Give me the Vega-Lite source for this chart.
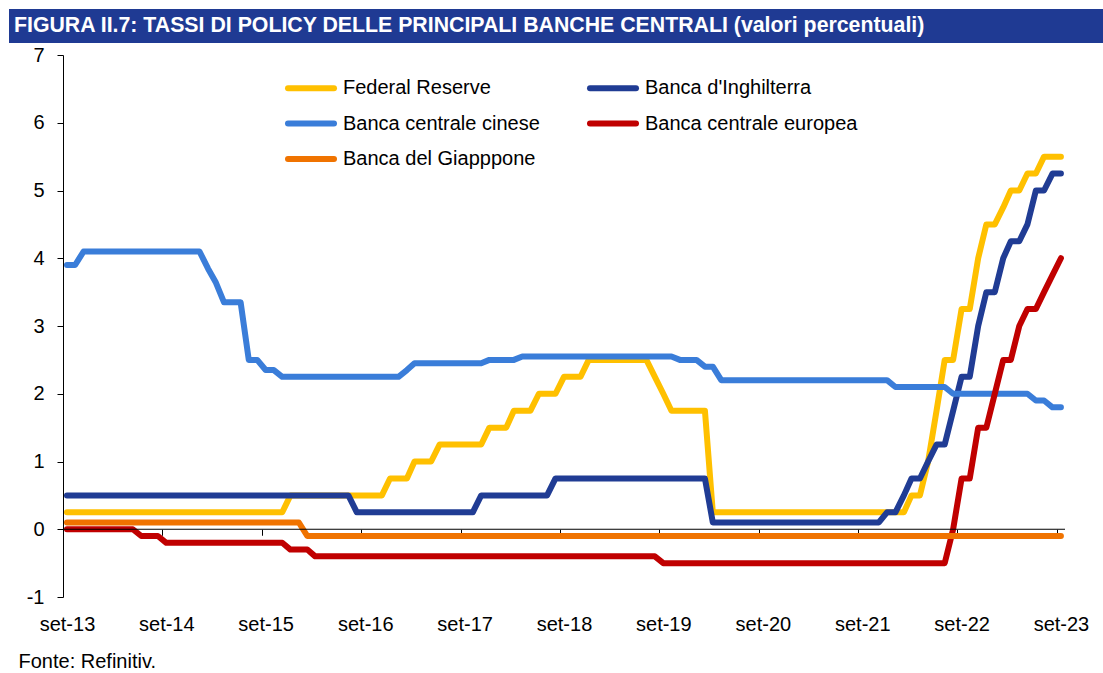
{
  "$schema": "https://vega.github.io/schema/vega-lite/v6.json",
  "padding": {"left": 9, "top": 9, "right": 0, "bottom": 0},
  "background": "white",
  "columns": 1,
  "align": "none",
  "spacing": 2,
  "config": {"view": {"stroke": null}, "font": "Liberation Sans"},
  "concat": [
    {
      "width": 1094,
      "height": 34,
      "view": {"fill": "#1F3A93", "stroke": null},
      "data": {"values": [{"titolo": "FIGURA II.7: TASSI DI POLICY DELLE PRINCIPALI BANCHE CENTRALI (valori percentuali)"}]},
      "layer": [
        {"mark": {"type": "rect", "color": "#1F3A93"}},
        {
          "mark": {"type": "text", "align": "left", "baseline": "middle", "color": "white", "font": "Liberation Sans", "fontWeight": "bold", "fontSize": 21.3},
          "encoding": {
            "x": {"value": 5},
            "y": {"value": 17},
            "text": {"field": "titolo"}
          }
        }
      ]
    },
    {
      "width": 1056,
      "height": 542,
      "layer": [
        {
          "data": {"values": [
            {"d":"2013-09-01","fed":0.25,"boe":0.5,"pboc":3.9,"ecb":0,"boj":0.1},
            {"d":"2013-10-01","fed":0.25,"boe":0.5,"pboc":3.9,"ecb":0,"boj":0.1},
            {"d":"2013-11-01","fed":0.25,"boe":0.5,"pboc":4.1,"ecb":0,"boj":0.1},
            {"d":"2013-12-01","fed":0.25,"boe":0.5,"pboc":4.1,"ecb":0,"boj":0.1},
            {"d":"2014-01-01","fed":0.25,"boe":0.5,"pboc":4.1,"ecb":0,"boj":0.1},
            {"d":"2014-02-01","fed":0.25,"boe":0.5,"pboc":4.1,"ecb":0,"boj":0.1},
            {"d":"2014-03-01","fed":0.25,"boe":0.5,"pboc":4.1,"ecb":0,"boj":0.1},
            {"d":"2014-04-01","fed":0.25,"boe":0.5,"pboc":4.1,"ecb":0,"boj":0.1},
            {"d":"2014-05-01","fed":0.25,"boe":0.5,"pboc":4.1,"ecb":0,"boj":0.1},
            {"d":"2014-06-01","fed":0.25,"boe":0.5,"pboc":4.1,"ecb":-0.1,"boj":0.1},
            {"d":"2014-07-01","fed":0.25,"boe":0.5,"pboc":4.1,"ecb":-0.1,"boj":0.1},
            {"d":"2014-08-01","fed":0.25,"boe":0.5,"pboc":4.1,"ecb":-0.1,"boj":0.1},
            {"d":"2014-09-01","fed":0.25,"boe":0.5,"pboc":4.1,"ecb":-0.2,"boj":0.1},
            {"d":"2014-10-01","fed":0.25,"boe":0.5,"pboc":4.1,"ecb":-0.2,"boj":0.1},
            {"d":"2014-11-01","fed":0.25,"boe":0.5,"pboc":4.1,"ecb":-0.2,"boj":0.1},
            {"d":"2014-12-01","fed":0.25,"boe":0.5,"pboc":4.1,"ecb":-0.2,"boj":0.1},
            {"d":"2015-01-01","fed":0.25,"boe":0.5,"pboc":4.1,"ecb":-0.2,"boj":0.1},
            {"d":"2015-02-01","fed":0.25,"boe":0.5,"pboc":3.85,"ecb":-0.2,"boj":0.1},
            {"d":"2015-03-01","fed":0.25,"boe":0.5,"pboc":3.65,"ecb":-0.2,"boj":0.1},
            {"d":"2015-04-01","fed":0.25,"boe":0.5,"pboc":3.35,"ecb":-0.2,"boj":0.1},
            {"d":"2015-05-01","fed":0.25,"boe":0.5,"pboc":3.35,"ecb":-0.2,"boj":0.1},
            {"d":"2015-06-01","fed":0.25,"boe":0.5,"pboc":3.35,"ecb":-0.2,"boj":0.1},
            {"d":"2015-07-01","fed":0.25,"boe":0.5,"pboc":2.5,"ecb":-0.2,"boj":0.1},
            {"d":"2015-08-01","fed":0.25,"boe":0.5,"pboc":2.5,"ecb":-0.2,"boj":0.1},
            {"d":"2015-09-01","fed":0.25,"boe":0.5,"pboc":2.35,"ecb":-0.2,"boj":0.1},
            {"d":"2015-10-01","fed":0.25,"boe":0.5,"pboc":2.35,"ecb":-0.2,"boj":0.1},
            {"d":"2015-11-01","fed":0.25,"boe":0.5,"pboc":2.25,"ecb":-0.2,"boj":0.1},
            {"d":"2015-12-01","fed":0.5,"boe":0.5,"pboc":2.25,"ecb":-0.3,"boj":0.1},
            {"d":"2016-01-01","fed":0.5,"boe":0.5,"pboc":2.25,"ecb":-0.3,"boj":0.1},
            {"d":"2016-02-01","fed":0.5,"boe":0.5,"pboc":2.25,"ecb":-0.3,"boj":-0.1},
            {"d":"2016-03-01","fed":0.5,"boe":0.5,"pboc":2.25,"ecb":-0.4,"boj":-0.1},
            {"d":"2016-04-01","fed":0.5,"boe":0.5,"pboc":2.25,"ecb":-0.4,"boj":-0.1},
            {"d":"2016-05-01","fed":0.5,"boe":0.5,"pboc":2.25,"ecb":-0.4,"boj":-0.1},
            {"d":"2016-06-01","fed":0.5,"boe":0.5,"pboc":2.25,"ecb":-0.4,"boj":-0.1},
            {"d":"2016-07-01","fed":0.5,"boe":0.5,"pboc":2.25,"ecb":-0.4,"boj":-0.1},
            {"d":"2016-08-01","fed":0.5,"boe":0.25,"pboc":2.25,"ecb":-0.4,"boj":-0.1},
            {"d":"2016-09-01","fed":0.5,"boe":0.25,"pboc":2.25,"ecb":-0.4,"boj":-0.1},
            {"d":"2016-10-01","fed":0.5,"boe":0.25,"pboc":2.25,"ecb":-0.4,"boj":-0.1},
            {"d":"2016-11-01","fed":0.5,"boe":0.25,"pboc":2.25,"ecb":-0.4,"boj":-0.1},
            {"d":"2016-12-01","fed":0.75,"boe":0.25,"pboc":2.25,"ecb":-0.4,"boj":-0.1},
            {"d":"2017-01-01","fed":0.75,"boe":0.25,"pboc":2.25,"ecb":-0.4,"boj":-0.1},
            {"d":"2017-02-01","fed":0.75,"boe":0.25,"pboc":2.35,"ecb":-0.4,"boj":-0.1},
            {"d":"2017-03-01","fed":1,"boe":0.25,"pboc":2.45,"ecb":-0.4,"boj":-0.1},
            {"d":"2017-04-01","fed":1,"boe":0.25,"pboc":2.45,"ecb":-0.4,"boj":-0.1},
            {"d":"2017-05-01","fed":1,"boe":0.25,"pboc":2.45,"ecb":-0.4,"boj":-0.1},
            {"d":"2017-06-01","fed":1.25,"boe":0.25,"pboc":2.45,"ecb":-0.4,"boj":-0.1},
            {"d":"2017-07-01","fed":1.25,"boe":0.25,"pboc":2.45,"ecb":-0.4,"boj":-0.1},
            {"d":"2017-08-01","fed":1.25,"boe":0.25,"pboc":2.45,"ecb":-0.4,"boj":-0.1},
            {"d":"2017-09-01","fed":1.25,"boe":0.25,"pboc":2.45,"ecb":-0.4,"boj":-0.1},
            {"d":"2017-10-01","fed":1.25,"boe":0.25,"pboc":2.45,"ecb":-0.4,"boj":-0.1},
            {"d":"2017-11-01","fed":1.25,"boe":0.5,"pboc":2.45,"ecb":-0.4,"boj":-0.1},
            {"d":"2017-12-01","fed":1.5,"boe":0.5,"pboc":2.5,"ecb":-0.4,"boj":-0.1},
            {"d":"2018-01-01","fed":1.5,"boe":0.5,"pboc":2.5,"ecb":-0.4,"boj":-0.1},
            {"d":"2018-02-01","fed":1.5,"boe":0.5,"pboc":2.5,"ecb":-0.4,"boj":-0.1},
            {"d":"2018-03-01","fed":1.75,"boe":0.5,"pboc":2.5,"ecb":-0.4,"boj":-0.1},
            {"d":"2018-04-01","fed":1.75,"boe":0.5,"pboc":2.55,"ecb":-0.4,"boj":-0.1},
            {"d":"2018-05-01","fed":1.75,"boe":0.5,"pboc":2.55,"ecb":-0.4,"boj":-0.1},
            {"d":"2018-06-01","fed":2,"boe":0.5,"pboc":2.55,"ecb":-0.4,"boj":-0.1},
            {"d":"2018-07-01","fed":2,"boe":0.5,"pboc":2.55,"ecb":-0.4,"boj":-0.1},
            {"d":"2018-08-01","fed":2,"boe":0.75,"pboc":2.55,"ecb":-0.4,"boj":-0.1},
            {"d":"2018-09-01","fed":2.25,"boe":0.75,"pboc":2.55,"ecb":-0.4,"boj":-0.1},
            {"d":"2018-10-01","fed":2.25,"boe":0.75,"pboc":2.55,"ecb":-0.4,"boj":-0.1},
            {"d":"2018-11-01","fed":2.25,"boe":0.75,"pboc":2.55,"ecb":-0.4,"boj":-0.1},
            {"d":"2018-12-01","fed":2.5,"boe":0.75,"pboc":2.55,"ecb":-0.4,"boj":-0.1},
            {"d":"2019-01-01","fed":2.5,"boe":0.75,"pboc":2.55,"ecb":-0.4,"boj":-0.1},
            {"d":"2019-02-01","fed":2.5,"boe":0.75,"pboc":2.55,"ecb":-0.4,"boj":-0.1},
            {"d":"2019-03-01","fed":2.5,"boe":0.75,"pboc":2.55,"ecb":-0.4,"boj":-0.1},
            {"d":"2019-04-01","fed":2.5,"boe":0.75,"pboc":2.55,"ecb":-0.4,"boj":-0.1},
            {"d":"2019-05-01","fed":2.5,"boe":0.75,"pboc":2.55,"ecb":-0.4,"boj":-0.1},
            {"d":"2019-06-01","fed":2.5,"boe":0.75,"pboc":2.55,"ecb":-0.4,"boj":-0.1},
            {"d":"2019-07-01","fed":2.5,"boe":0.75,"pboc":2.55,"ecb":-0.4,"boj":-0.1},
            {"d":"2019-08-01","fed":2.25,"boe":0.75,"pboc":2.55,"ecb":-0.4,"boj":-0.1},
            {"d":"2019-09-01","fed":2,"boe":0.75,"pboc":2.55,"ecb":-0.5,"boj":-0.1},
            {"d":"2019-10-01","fed":1.75,"boe":0.75,"pboc":2.55,"ecb":-0.5,"boj":-0.1},
            {"d":"2019-11-01","fed":1.75,"boe":0.75,"pboc":2.5,"ecb":-0.5,"boj":-0.1},
            {"d":"2019-12-01","fed":1.75,"boe":0.75,"pboc":2.5,"ecb":-0.5,"boj":-0.1},
            {"d":"2020-01-01","fed":1.75,"boe":0.75,"pboc":2.5,"ecb":-0.5,"boj":-0.1},
            {"d":"2020-02-01","fed":1.75,"boe":0.75,"pboc":2.4,"ecb":-0.5,"boj":-0.1},
            {"d":"2020-03-01","fed":0.25,"boe":0.1,"pboc":2.4,"ecb":-0.5,"boj":-0.1},
            {"d":"2020-04-01","fed":0.25,"boe":0.1,"pboc":2.2,"ecb":-0.5,"boj":-0.1},
            {"d":"2020-05-01","fed":0.25,"boe":0.1,"pboc":2.2,"ecb":-0.5,"boj":-0.1},
            {"d":"2020-06-01","fed":0.25,"boe":0.1,"pboc":2.2,"ecb":-0.5,"boj":-0.1},
            {"d":"2020-07-01","fed":0.25,"boe":0.1,"pboc":2.2,"ecb":-0.5,"boj":-0.1},
            {"d":"2020-08-01","fed":0.25,"boe":0.1,"pboc":2.2,"ecb":-0.5,"boj":-0.1},
            {"d":"2020-09-01","fed":0.25,"boe":0.1,"pboc":2.2,"ecb":-0.5,"boj":-0.1},
            {"d":"2020-10-01","fed":0.25,"boe":0.1,"pboc":2.2,"ecb":-0.5,"boj":-0.1},
            {"d":"2020-11-01","fed":0.25,"boe":0.1,"pboc":2.2,"ecb":-0.5,"boj":-0.1},
            {"d":"2020-12-01","fed":0.25,"boe":0.1,"pboc":2.2,"ecb":-0.5,"boj":-0.1},
            {"d":"2021-01-01","fed":0.25,"boe":0.1,"pboc":2.2,"ecb":-0.5,"boj":-0.1},
            {"d":"2021-02-01","fed":0.25,"boe":0.1,"pboc":2.2,"ecb":-0.5,"boj":-0.1},
            {"d":"2021-03-01","fed":0.25,"boe":0.1,"pboc":2.2,"ecb":-0.5,"boj":-0.1},
            {"d":"2021-04-01","fed":0.25,"boe":0.1,"pboc":2.2,"ecb":-0.5,"boj":-0.1},
            {"d":"2021-05-01","fed":0.25,"boe":0.1,"pboc":2.2,"ecb":-0.5,"boj":-0.1},
            {"d":"2021-06-01","fed":0.25,"boe":0.1,"pboc":2.2,"ecb":-0.5,"boj":-0.1},
            {"d":"2021-07-01","fed":0.25,"boe":0.1,"pboc":2.2,"ecb":-0.5,"boj":-0.1},
            {"d":"2021-08-01","fed":0.25,"boe":0.1,"pboc":2.2,"ecb":-0.5,"boj":-0.1},
            {"d":"2021-09-01","fed":0.25,"boe":0.1,"pboc":2.2,"ecb":-0.5,"boj":-0.1},
            {"d":"2021-10-01","fed":0.25,"boe":0.1,"pboc":2.2,"ecb":-0.5,"boj":-0.1},
            {"d":"2021-11-01","fed":0.25,"boe":0.1,"pboc":2.2,"ecb":-0.5,"boj":-0.1},
            {"d":"2021-12-01","fed":0.25,"boe":0.25,"pboc":2.2,"ecb":-0.5,"boj":-0.1},
            {"d":"2022-01-01","fed":0.25,"boe":0.25,"pboc":2.1,"ecb":-0.5,"boj":-0.1},
            {"d":"2022-02-01","fed":0.25,"boe":0.5,"pboc":2.1,"ecb":-0.5,"boj":-0.1},
            {"d":"2022-03-01","fed":0.5,"boe":0.75,"pboc":2.1,"ecb":-0.5,"boj":-0.1},
            {"d":"2022-04-01","fed":0.5,"boe":0.75,"pboc":2.1,"ecb":-0.5,"boj":-0.1},
            {"d":"2022-05-01","fed":1,"boe":1,"pboc":2.1,"ecb":-0.5,"boj":-0.1},
            {"d":"2022-06-01","fed":1.75,"boe":1.25,"pboc":2.1,"ecb":-0.5,"boj":-0.1},
            {"d":"2022-07-01","fed":2.5,"boe":1.25,"pboc":2.1,"ecb":-0.5,"boj":-0.1},
            {"d":"2022-08-01","fed":2.5,"boe":1.75,"pboc":2,"ecb":0,"boj":-0.1},
            {"d":"2022-09-01","fed":3.25,"boe":2.25,"pboc":2,"ecb":0.75,"boj":-0.1},
            {"d":"2022-10-01","fed":3.25,"boe":2.25,"pboc":2,"ecb":0.75,"boj":-0.1},
            {"d":"2022-11-01","fed":4,"boe":3,"pboc":2,"ecb":1.5,"boj":-0.1},
            {"d":"2022-12-01","fed":4.5,"boe":3.5,"pboc":2,"ecb":1.5,"boj":-0.1},
            {"d":"2023-01-01","fed":4.5,"boe":3.5,"pboc":2,"ecb":2,"boj":-0.1},
            {"d":"2023-02-01","fed":4.75,"boe":4,"pboc":2,"ecb":2.5,"boj":-0.1},
            {"d":"2023-03-01","fed":5,"boe":4.25,"pboc":2,"ecb":2.5,"boj":-0.1},
            {"d":"2023-04-01","fed":5,"boe":4.25,"pboc":2,"ecb":3,"boj":-0.1},
            {"d":"2023-05-01","fed":5.25,"boe":4.5,"pboc":2,"ecb":3.25,"boj":-0.1},
            {"d":"2023-06-01","fed":5.25,"boe":5,"pboc":1.9,"ecb":3.25,"boj":-0.1},
            {"d":"2023-07-01","fed":5.5,"boe":5,"pboc":1.9,"ecb":3.5,"boj":-0.1},
            {"d":"2023-08-01","fed":5.5,"boe":5.25,"pboc":1.8,"ecb":3.75,"boj":-0.1},
            {"d":"2023-09-01","fed":5.5,"boe":5.25,"pboc":1.8,"ecb":4,"boj":-0.1}
          ]},
          "transform": [{"fold": ["fed", "boe", "pboc", "ecb", "boj"], "as": ["serie", "valore"]}],
          "mark": {"type": "line", "strokeWidth": 6, "strokeCap": "round", "strokeJoin": "round"},
          "encoding": {
            "x": {
              "field": "d",
              "type": "temporal",
              "scale": {
                "type": "utc",
                "domain": [
                  {"year": 2013, "month": 1, "date": 31, "utc": true},
                  {"year": 2023, "month": 9, "date": 16, "utc": true}
                ]
              },
              "axis": {
                "orient": "bottom",
                "offset": -67.75,
                "domain": false,
                "values": [
                  {"year": 2013, "month": 8, "date": 17, "utc": true},
                  {"year": 2014, "month": 8, "date": 17, "utc": true},
                  {"year": 2015, "month": 8, "date": 17, "utc": true},
                  {"year": 2016, "month": 8, "date": 17, "utc": true},
                  {"year": 2017, "month": 8, "date": 17, "utc": true},
                  {"year": 2018, "month": 8, "date": 17, "utc": true},
                  {"year": 2019, "month": 8, "date": 17, "utc": true},
                  {"year": 2020, "month": 8, "date": 17, "utc": true},
                  {"year": 2021, "month": 8, "date": 17, "utc": true},
                  {"year": 2022, "month": 8, "date": 17, "utc": true},
                  {"year": 2023, "month": 8, "date": 17, "utc": true}
                ],
                "labelExpr": "'set-' + utcFormat(datum.value, '%y')",
                "labelOffset": 4.1,
                "labelPadding": 79,
                "labelFlush": false,
                "labelOverlap": false,
                "labelFont": "Liberation Sans",
                "labelFontSize": 20,
                "labelColor": "black",
                "tickSize": 6,
                "tickColor": "black",
                "tickWidth": 1,
                "grid": false,
                "title": "Fonte: Refinitiv.",
                "titleX": 9,
                "titleY": 137.75,
                "titleAlign": "left",
                "titleAnchor": "start",
                "titleBaseline": "alphabetic",
                "titleFont": "Liberation Sans",
                "titleFontSize": 20,
                "titleFontWeight": "normal",
                "titleColor": "black"
              }
            },
            "y": {
              "field": "valore",
              "type": "quantitative",
              "scale": {"domain": [-1, 7], "nice": false, "zero": false},
              "axis": {
                "offset": -54,
                "values": [-1, 0, 1, 2, 3, 4, 5, 6, 7],
                "labelExpr": "replace(format(datum.value, 'd'), '\u2212', '-')",
                "tickSize": 6,
                "tickColor": "black",
                "domainColor": "black",
                "labelPadding": 13,
                "labelFont": "Liberation Sans",
                "labelFontSize": 20,
                "labelColor": "black",
                "labelFlush": false,
                "grid": false,
                "title": null
              }
            },
            "color": {
              "field": "serie",
              "type": "nominal",
              "scale": {
                "domain": ["fed", "boe", "pboc", "ecb", "boj"],
                "range": ["#FFC000", "#203C94", "#3A7DD9", "#C00000", "#F07300"]
              },
              "legend": {
                "orient": "none",
                "legendX": 287.5,
                "legendY": 64.5,
                "direction": "horizontal",
                "columns": 2,
                "title": null,
                "padding": 0,
                "symbolType": "M-2,0H2",
                "symbolSize": 529,
                "symbolStrokeWidth": 6,
                "labelFont": "Liberation Sans",
                "labelFontSize": 20,
                "labelColor": "black",
                "labelOffset": 17.5,
                "labelLimit": 400,
                "columnPadding": 37,
                "rowPadding": 8.5,
                "encode": {"symbols": {"update": {"strokeCap": {"value": "round"}}}},
                "labelExpr": "datum.label == 'fed' ? 'Federal Reserve' : datum.label == 'boe' ? \"Banca d'Inghilterra\" : datum.label == 'pboc' ? 'Banca centrale cinese' : datum.label == 'ecb' ? 'Banca centrale europea' : 'Banca del Giapppone'"
              }
            }
          }
        },
        {
          "data": {"values": [{}]},
          "mark": {"type": "rule", "color": "black", "strokeWidth": 1},
          "encoding": {
            "x": {"datum": {"year": 2013, "month": 8, "date": 17, "utc": true}, "type": "temporal"},
            "x2": {"datum": {"year": 2023, "month": 9, "date": 16, "utc": true}},
            "y": {"datum": 0, "type": "quantitative"}
          }
        }
      ]
    }
  ]
}
